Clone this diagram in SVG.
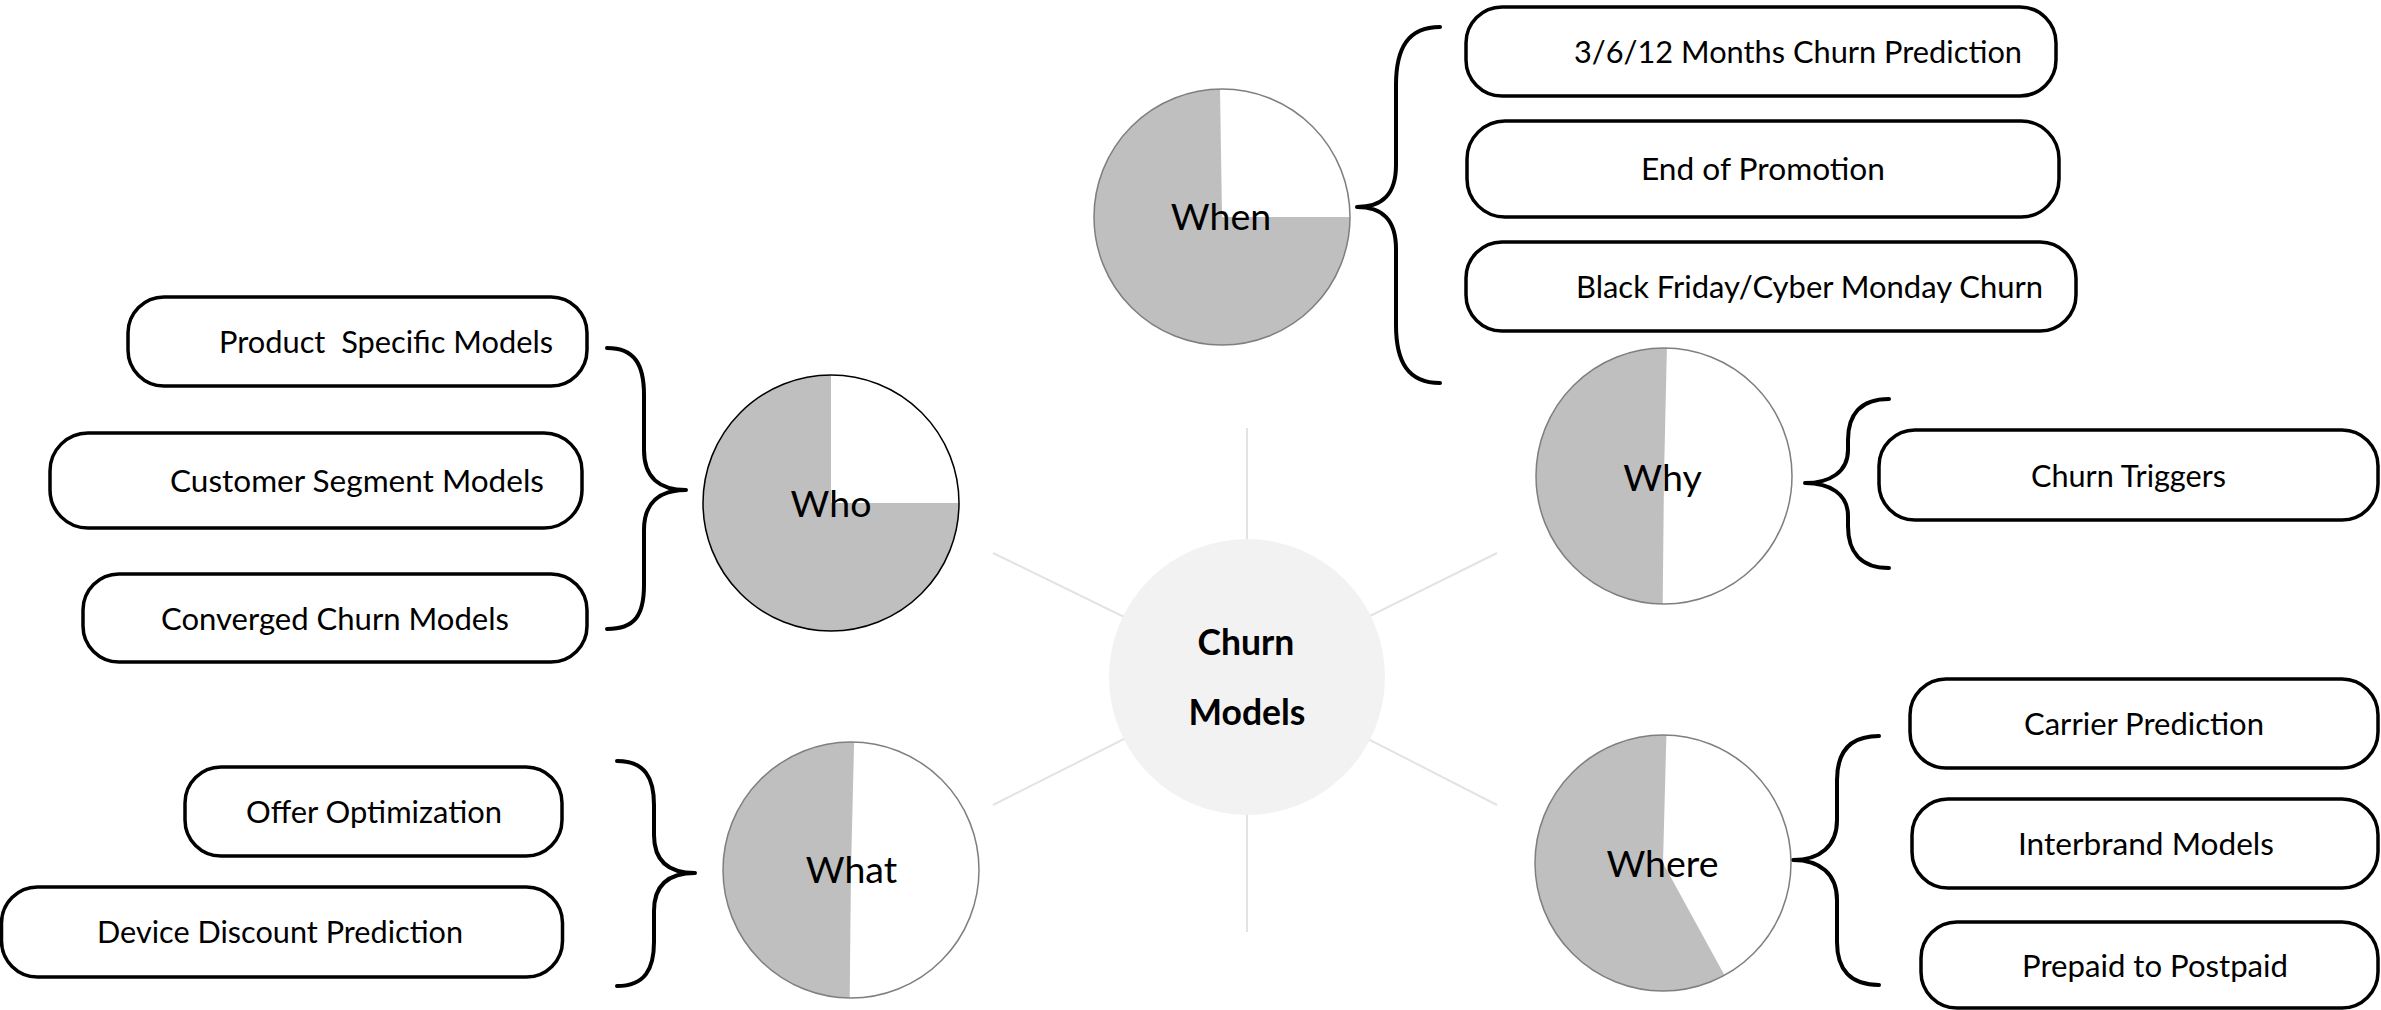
<svg xmlns="http://www.w3.org/2000/svg" width="2381" height="1010" viewBox="0 0 2381 1010">
<style>
.box{fill:#fff;stroke:#000;stroke-width:3.5}
.bt{font-family:Lato,"Liberation Sans",sans-serif;font-size:31.5px;fill:#000;text-anchor:middle}
.ct{font-family:Lato,"Liberation Sans",sans-serif;font-size:37.5px;fill:#000;text-anchor:middle}
.mt{font-family:Lato,"Liberation Sans",sans-serif;font-size:35.5px;font-weight:bold;fill:#000;text-anchor:middle}
.gray{fill:#bfbfbf}
.wht{fill:#fff}
.ring{fill:none;stroke:#7f7f7f;stroke-width:1.5}
.brace{fill:none;stroke:#000;stroke-width:4;stroke-linecap:round;stroke-linejoin:round}
.spoke{stroke:#e3e3e3;stroke-width:2}
</style>
<rect x="0" y="0" width="2381" height="1010" fill="#fff"/>
<g id="connectors">
<line class="spoke" x1="1247" y1="428" x2="1247" y2="677"/>
<line class="spoke" x1="1247" y1="932" x2="1247" y2="677"/>
<line class="spoke" x1="993" y1="553" x2="1247" y2="677"/>
<line class="spoke" x1="1497" y1="553" x2="1247" y2="677"/>
<line class="spoke" x1="993" y1="805" x2="1247" y2="677"/>
<line class="spoke" x1="1497" y1="805" x2="1247" y2="677"/>
<path class="brace" d="M1440,27 C1408,27 1396,48 1396,85 L1396,165 C1396,195 1382,207 1357,207 C1382,207 1396,219 1396,249 L1396,325 C1396,362 1408,383 1440,383"/>
<path class="brace" d="M607,348 C635,348 644,365 644,395 L644,450 C644,478 660,490 686,490 C660,490 644,502 644,530 L644,585 C644,615 635,629 607,629"/>
<path class="brace" d="M617,761 C645,761 654,778 654,805 L654,835 C654,862 670,873 695,873 C670,873 654,884 654,911 L654,942 C654,969 645,986 617,986"/>
<path class="brace" d="M1889,399 C1860,399 1848,415 1848,440 L1848,450 C1848,472 1830,483 1805,483 C1830,483 1848,494 1848,516 L1848,526 C1848,551 1860,568 1889,568"/>
<path class="brace" d="M1879,736 C1850,736 1837,752 1837,780 L1837,820 C1837,846 1820,860 1793,860 C1820,860 1837,874 1837,900 L1837,942 C1837,969 1850,985 1879,985"/>
</g>
<g id="center">
<circle cx="1247" cy="677" r="138" fill="#f2f2f2"/>
<text class="mt" x="1246" y="655">Churn</text>
<text class="mt" x="1247" y="725">Models</text>
</g>
<g id="when">
<circle class="gray" cx="1222" cy="217" r="128"/>
<path class="wht" d="M1222,217 L1220,89 A128,128 0 0 1 1350,217 Z"/>
<circle class="ring" cx="1222" cy="217" r="128"/>
<text class="ct" x="1221" y="230">When</text>
</g>
<g id="who">
<circle class="gray" cx="831" cy="503" r="128"/>
<path class="wht" d="M831,503 L831,375 A128,128 0 0 1 959,503 Z"/>
<circle class="ring" cx="831" cy="503" r="128" style="stroke:#000"/>
<text class="ct" x="831" y="517">Who</text>
</g>
<g id="what">
<circle class="gray" cx="851" cy="870" r="128"/>
<path class="wht" d="M851,870 L854.1,742 A128,128 0 0 1 849.7,998 Z"/>
<circle class="ring" cx="851" cy="870" r="128"/>
<text class="ct" x="851.5" y="883">What</text>
</g>
<g id="why">
<circle class="gray" cx="1664" cy="476" r="128"/>
<path class="wht" d="M1664,476 L1666.9,348 A128,128 0 0 1 1662.7,604 Z"/>
<circle class="ring" cx="1664" cy="476" r="128"/>
<text class="ct" x="1662.5" y="491">Why</text>
</g>
<g id="where">
<circle class="gray" cx="1663" cy="863" r="128"/>
<path class="wht" d="M1663,863 L1666.4,735 A128,128 0 0 1 1724.5,975.3 Z"/>
<circle class="ring" cx="1663" cy="863" r="128"/>
<text class="ct" x="1662.5" y="877">Where</text>
</g>
<g id="when-1"><rect class="box" x="1466" y="7" width="590" height="89" rx="36"/><text class="bt" x="1798" y="63" textLength="448" lengthAdjust="spacingAndGlyphs">3/6/12 Months Churn Prediction</text></g>
<g id="when-2"><rect class="box" x="1467" y="121" width="592" height="96" rx="38"/><text class="bt" x="1763" y="180" textLength="244" lengthAdjust="spacingAndGlyphs">End of Promotion</text></g>
<g id="when-3"><rect class="box" x="1466" y="242" width="610" height="89" rx="36"/><text class="bt" x="1809.5" y="298" textLength="467" lengthAdjust="spacingAndGlyphs">Black Friday/Cyber Monday Churn</text></g>
<g id="who-1"><rect class="box" x="128" y="297" width="459" height="89" rx="36"/><text class="bt" x="386" y="353" xml:space="preserve" textLength="334" lengthAdjust="spacingAndGlyphs">Product  Specific Models</text></g>
<g id="who-2"><rect class="box" x="50" y="433" width="532" height="95" rx="38"/><text class="bt" x="357" y="492" textLength="374" lengthAdjust="spacingAndGlyphs">Customer Segment Models</text></g>
<g id="who-3"><rect class="box" x="83" y="574" width="504" height="88" rx="36"/><text class="bt" x="335" y="630" textLength="348" lengthAdjust="spacingAndGlyphs">Converged Churn Models</text></g>
<g id="what-1"><rect class="box" x="185" y="767" width="377" height="89" rx="36"/><text class="bt" x="374" y="823" textLength="256" lengthAdjust="spacingAndGlyphs">Offer Optimization</text></g>
<g id="what-2"><rect class="box" x="1.5" y="887" width="561" height="90" rx="36"/><text class="bt" x="280" y="943" textLength="366" lengthAdjust="spacingAndGlyphs">Device Discount Prediction</text></g>
<g id="why-1"><rect class="box" x="1879" y="430" width="499" height="90" rx="36"/><text class="bt" x="2128.5" y="487" textLength="195" lengthAdjust="spacingAndGlyphs">Churn Triggers</text></g>
<g id="where-1"><rect class="box" x="1910" y="679" width="468" height="89" rx="36"/><text class="bt" x="2144" y="735" textLength="240" lengthAdjust="spacingAndGlyphs">Carrier Prediction</text></g>
<g id="where-2"><rect class="box" x="1912" y="799" width="466" height="89" rx="36"/><text class="bt" x="2146" y="855" textLength="256" lengthAdjust="spacingAndGlyphs">Interbrand Models</text></g>
<g id="where-3"><rect class="box" x="1921" y="922" width="457" height="86" rx="36"/><text class="bt" x="2155" y="977" textLength="266" lengthAdjust="spacingAndGlyphs">Prepaid to Postpaid</text></g>
</svg>
